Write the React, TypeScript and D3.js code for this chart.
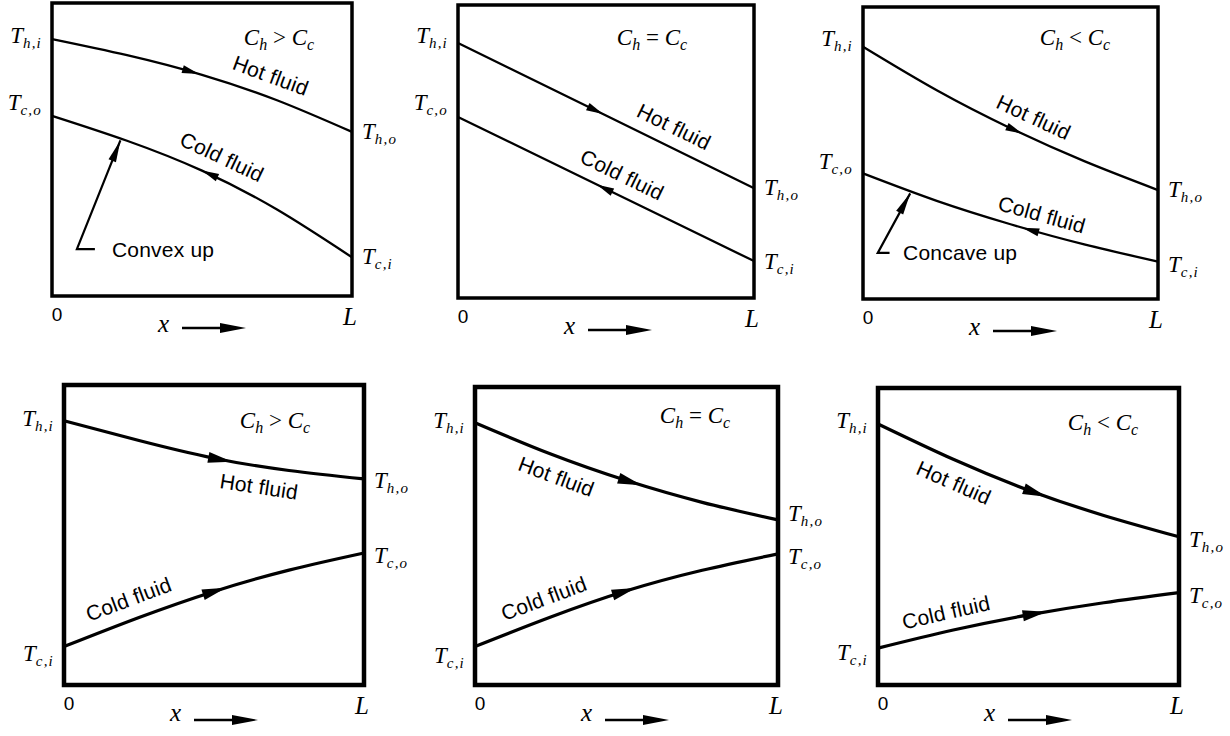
import React, { useEffect, useRef } from 'react'
import * as d3 from 'd3'

// positions along the exchanger, x / L
const X5 = [0, 0.25, 0.5, 0.75, 1]
const X3 = [0, 0.5, 1]

// temperatures, 0 = bottom of frame, 100 = top of frame
// top row: counterflow
const hotCounterGt = [87.7, 82.2, 75.5, 66.8, 56]
const coldCounterGt = [61.5, 53, 42.8, 29.5, 13.2]
const hotCounterEq = [87, 62.3, 37.5]
const coldCounterEq = [61.8, 37.2, 12.6]
const hotCounterLt = [86.4, 71.5, 58.5, 47.2, 37.3]
const coldCounterLt = [43, 33.6, 25.6, 18.7, 12.8]
// bottom row: parallel flow
const hotParallelGt = [88.1, 81.5, 75.6, 71.5, 68.7]
const coldParallelGt = [12.8, 22.5, 31.2, 38.3, 44]
const hotParallelEq = [88, 77.5, 68.6, 61.3, 55.4]
const coldParallelEq = [12.9, 22.8, 31.6, 38.5, 44]
const hotParallelLt = [87.9, 76, 65.6, 57.1, 49.9]
const coldParallelLt = [12.4, 18.5, 23.6, 27.7, 31.1]

const caseSigns = ['>', '=', '<', '>', '=', '<']
const counterEnds = { left: ['h,i', 'c,o'], right: ['h,o', 'c,i'] }
const parallelEnds = { left: ['h,i', 'c,i'], right: ['h,o', 'c,o'] }

const SERIF = '"Liberation Serif", "Times New Roman", serif'
const SANS = '"Liberation Sans", Arial, Helvetica, sans-serif'

const panels = [
  {
    box: [52, 3, 352, 296], row: 0, xs: X5, hot: hotCounterGt, cold: coldCounterGt, sign: caseSigns[0],
    ends: counterEnds, caseAt: [73, 42], leftDy: [4, -6], rightDy: [7, 7],
    hotArrow: 0.49, coldArrow: 0.5, hotText: [0.705, -21], coldText: [0.537, -21],
    pointer: { text: 'Convex up', target: 0.228, corner: [0.083, 16], tick: 0.143, textX: 0.2 },
  },
  {
    box: [458, 5, 754, 298], row: 0, xs: X3, hot: hotCounterEq, cold: coldCounterEq, sign: caseSigns[1],
    ends: counterEnds, caseAt: [102, 40], leftDy: [0, -7], rightDy: [7, 8],
    hotArrow: 0.49, coldArrow: 0.47, hotText: [0.7, -20], coldText: [0.525, -20],
  },
  {
    box: [863, 7, 1158, 299], row: 0, xs: X5, hot: hotCounterLt, cold: coldCounterLt, sign: caseSigns[2],
    ends: counterEnds, caseAt: [83, 38], leftDy: [-1, -4], rightDy: [7, 10],
    hotArrow: 0.54, coldArrow: 0.54, hotText: [0.55, -20], coldText: [0.59, -18],
    pointer: { text: 'Concave up', target: 0.16, corner: [0.05, 15.8], tick: 0.09, textX: 0.136 },
  },
  {
    box: [64, 385, 364, 685], row: 1, xs: X5, hot: hotParallelGt, cold: coldParallelGt, sign: caseSigns[3],
    ends: parallelEnds, caseAt: [89, 43], leftDy: [5, 14], rightDy: [9, 10],
    hotArrow: 0.56, coldArrow: 0.54, hotText: [0.66, 20], coldText: [0.24, -21],
  },
  {
    box: [475, 387, 778, 685], row: 1, xs: X5, hot: hotParallelEq, cold: coldParallelEq, sign: caseSigns[4],
    ends: parallelEnds, caseAt: [83, 36], leftDy: [5, 16], rightDy: [1, 10],
    hotArrow: 0.55, coldArrow: 0.53, hotText: [0.29, 19], coldText: [0.25, -20],
  },
  {
    box: [878, 388, 1179, 685], row: 1, xs: X5, hot: hotParallelLt, cold: coldParallelLt, sign: caseSigns[5],
    ends: parallelEnds, caseAt: [76, 42], leftDy: [4, 12], rightDy: [10, 10],
    hotArrow: 0.56, coldArrow: 0.56, hotText: [0.28, 21], coldText: [0.24, -19],
  },
]

function pointAtX(path: SVGPathElement, x: number) {
  const total = path.getTotalLength()
  let lo = 0
  let hi = total
  for (let i = 0; i < 30; i++) {
    const mid = (lo + hi) / 2
    if (path.getPointAtLength(mid).x < x) lo = mid
    else hi = mid
  }
  const p = path.getPointAtLength(lo)
  const a = path.getPointAtLength(Math.max(0, lo - 3))
  const b = path.getPointAtLength(Math.min(total, lo + 3))
  return { x: p.x, y: p.y, deg: (Math.atan2(b.y - a.y, b.x - a.x) * 180) / Math.PI }
}

function tLabel(g: any, x: number, y: number, sub: string, anchor: string) {
  const t = g.append('text')
    .attr('x', x).attr('y', y)
    .attr('text-anchor', anchor)
    .attr('font-family', SERIF).attr('font-style', 'italic')
    .attr('font-size', 23)
  t.append('tspan').text('T')
  t.append('tspan').attr('dy', 5).attr('font-size', 15).attr('letter-spacing', 1.2).text(sub)
}

function drawPanel(svg: any, p: any) {
  const [x0, y0, x1, y1] = p.box
  const bottom = p.row === 1
  const lw = bottom ? 3.2 : 2.3
  const x = d3.scaleLinear().domain([0, 1]).range([x0, x1])
  const y = d3.scaleLinear().domain([0, 100]).range([y1, y0])
  const g = svg.append('g')

  g.append('rect')
    .attr('x', x0).attr('y', y0)
    .attr('width', x1 - x0).attr('height', y1 - y0)
    .attr('fill', 'none').attr('stroke', '#000')
    .attr('stroke-width', bottom ? 4.5 : 3.5)

  const line = d3.line<number>()
    .x((d, i) => x(p.xs[i]))
    .y(d => y(d))
    .curve(d3.curveNatural)

  const streams = [
    { vals: p.hot, name: 'Hot fluid', arrow: p.hotArrow, text: p.hotText, dir: 1 },
    { vals: p.cold, name: 'Cold fluid', arrow: p.coldArrow, text: p.coldText, dir: bottom ? 1 : -1 },
  ]

  const paths: SVGPathElement[] = []
  streams.forEach((s, k) => {
    const path = g.append('path')
      .attr('d', line(s.vals))
      .attr('fill', 'none').attr('stroke', '#000')
      .attr('stroke-width', lw)
    const node = path.node() as SVGPathElement
    paths.push(node)

    // flow arrowhead
    const a = pointAtX(node, x(s.arrow))
    const len = bottom ? 24 : 17
    const w = bottom ? 11 : 8
    g.append('path')
      .attr('d', `M0,0L${-len},${-w / 2}L${-len},${w / 2}Z`)
      .attr('fill', '#000')
      .attr('transform', `translate(${a.x},${a.y}) rotate(${a.deg + (s.dir < 0 ? 180 : 0)})`)

    // stream name along the curve
    const t = pointAtX(node, x(s.text[0]))
    g.append('text')
      .attr('transform', `translate(${t.x},${t.y}) rotate(${t.deg}) translate(0,${s.text[1]})`)
      .attr('text-anchor', 'middle').attr('dominant-baseline', 'central')
      .attr('font-family', SANS).attr('font-size', 21).attr('letter-spacing', 0.2)
      .text(s.name)

    // end temperatures
    tLabel(g, x0 - 10, y(s.vals[0]) + p.leftDy[k], p.ends.left[k], 'end')
    tLabel(g, x1 + 10, y(s.vals[s.vals.length - 1]) + p.rightDy[k], p.ends.right[k], 'start')
  })

  // capacity-rate case
  const c = g.append('text')
    .attr('x', x1 - p.caseAt[0]).attr('y', y0 + p.caseAt[1])
    .attr('text-anchor', 'middle')
    .attr('font-family', SERIF).attr('font-size', 23)
  c.append('tspan').attr('font-style', 'italic').text('C')
  c.append('tspan').attr('font-style', 'italic').attr('font-size', 16).attr('dy', 5).text('h')
  c.append('tspan').attr('dy', -5).text(` ${p.sign} `)
  c.append('tspan').attr('font-style', 'italic').text('C')
  c.append('tspan').attr('font-style', 'italic').attr('font-size', 16).attr('dy', 5).text('c')

  // curvature pointer
  if (p.pointer) {
    const q = p.pointer
    const tgt = pointAtX(paths[1], x(q.target))
    const cx = x(q.corner[0])
    const cy = y(q.corner[1])
    g.append('path')
      .attr('d', `M${x(q.tick)},${cy}L${cx},${cy}L${tgt.x},${tgt.y + 2}`)
      .attr('fill', 'none').attr('stroke', '#000').attr('stroke-width', 2.2)
    const deg = (Math.atan2(tgt.y + 2 - cy, tgt.x - cx) * 180) / Math.PI
    g.append('path')
      .attr('d', 'M0,0L-22,-4L-22,4Z')
      .attr('fill', '#000')
      .attr('transform', `translate(${tgt.x},${tgt.y + 2}) rotate(${deg})`)
    g.append('text')
      .attr('x', x(q.textX)).attr('y', cy)
      .attr('dominant-baseline', 'central')
      .attr('font-family', SANS).attr('font-size', 21).attr('letter-spacing', 0.2)
      .text(q.text)
  }

  // axis marks
  g.append('text')
    .attr('x', x0 + 5).attr('y', y1 + 25)
    .attr('text-anchor', 'middle')
    .attr('font-family', SANS).attr('font-size', 19)
    .text('0')
  g.append('text')
    .attr('x', x1 - 2).attr('y', y1 + 29)
    .attr('text-anchor', 'middle')
    .attr('font-family', SERIF).attr('font-style', 'italic').attr('font-size', 25)
    .text('L')
  g.append('text')
    .attr('x', x0 + 106).attr('y', y1 + 36)
    .attr('font-family', SERIF).attr('font-style', 'italic').attr('font-size', 25)
    .text('x')
  const ay = y1 + (bottom ? 35 : 32)
  g.append('line')
    .attr('x1', x0 + 130).attr('x2', x0 + 172)
    .attr('y1', ay).attr('y2', ay)
    .attr('stroke', '#000').attr('stroke-width', 2.4)
  g.append('path')
    .attr('d', `M${x0 + 194},${ay}L${x0 + 168},${ay - 5}L${x0 + 168},${ay + 5}Z`)
    .attr('fill', '#000')
}

export default function App() {
  const ref = useRef<SVGSVGElement>(null)

  useEffect(() => {
    const svg = d3.select(ref.current)
    svg.selectAll('*').remove()
    panels.forEach(p => drawPanel(svg, p))
  }, [])

  return (
    <svg
      ref={ref}
      width={1230}
      height={736}
      style={{ position: 'absolute', left: 0, top: 0, background: '#fff' }}
    />
  )
}
